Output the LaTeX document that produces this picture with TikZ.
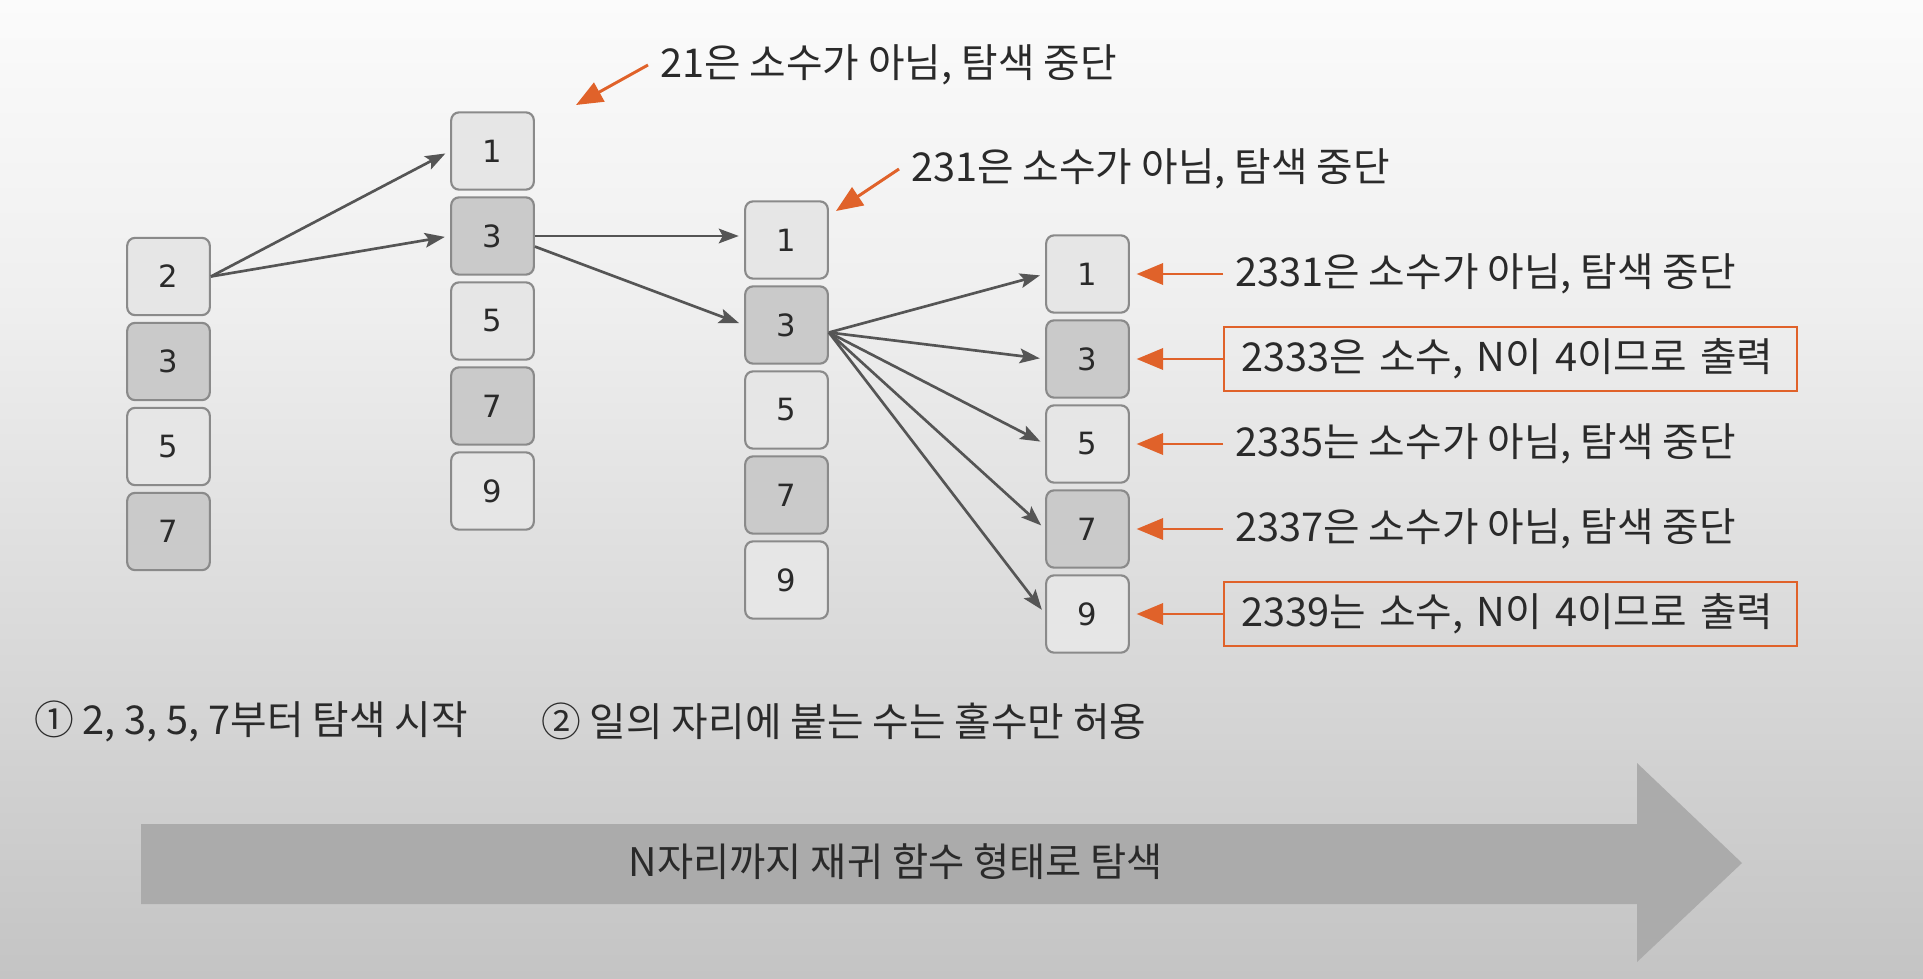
\documentclass[tikz,border=0pt]{standalone}
\usepackage{fontspec}
\setmainfont{Noto Sans CJK KR}
\newfontfamily\numfont{DejaVu Sans}
\usetikzlibrary{arrows.meta}

\definecolor{bgtop}{HTML}{FBFBFB}
\definecolor{bgmid}{HTML}{EFEFEF}
\definecolor{bgbot}{HTML}{C4C4C4}
\definecolor{boxlight}{HTML}{E6E6E6}
\definecolor{boxdark}{HTML}{CACACA}
\definecolor{boxline}{HTML}{8A8A8A}
\definecolor{textgray}{HTML}{2A2A2A}
\definecolor{arrowgray}{HTML}{555555}
\definecolor{orangeline}{HTML}{E0622A}
\definecolor{flowgray}{HTML}{ABABAB}

\tikzset{
  numbox/.style={draw=boxline,line width=1.6pt,rounded corners=6pt,
    minimum width=62pt,minimum height=58pt,inner sep=0pt,
    font=\numfont\fontsize{23}{23}\selectfont,text=textgray},
  note/.style={font=\fontsize{29.8}{29.8}\selectfont,text=textgray,
    inner xsep=9pt,anchor=west},
  notebox/.style={note,draw=orangeline,line width=1.5pt,inner xsep=13pt,
    text width=404pt,align=left,minimum height=48pt},
  grayarrow/.style={draw=arrowgray,line width=2pt,
    -{Stealth[length=15pt,width=11pt,inset=3pt]},shorten >=4pt},
  orangearrow/.style={draw=orangeline,line width=2.2pt,
    -{Triangle[length=20pt,width=16pt]},shorten >=5pt}
}

\begin{document}
\begin{tikzpicture}[x=0.75pt,y=-0.75pt]
\useasboundingbox (0,0) rectangle (1923,978);
% The background
\shade[top color=bgtop,bottom color=bgmid] (0,0) rectangle (1923,300);
\shade[top color=bgmid,bottom color=bgbot] (0,300) rectangle (1923,978);

% The first digits
\foreach \d/\f [count=\i from 0] in {2/boxlight,3/boxdark,5/boxlight,7/boxdark}
{
  \node[numbox,fill=\f] (a\d) at (168.5,276.5+85*\i) {\d};
}
% The odd digits appended
\foreach \col/\cx/\cy in {b/492.5/151,c/786.5/240,d/1087.5/274}
{
  \foreach \d/\f [count=\i from 0] in {1/boxlight,3/boxdark,5/boxlight,7/boxdark,9/boxlight}
  {
    \node[numbox,fill=\f] (\col\d) at (\cx,\cy+85*\i) {\d};
  }
}

% The search arrows
\draw[grayarrow] (a2.east) -- (b1.west);
\draw[grayarrow] (a2.east) -- (b3.west);
\draw[grayarrow] (b3.east) -- (b3.east -| c1.west);
\draw[grayarrow] (b3.-14) -- (c3.west);
\foreach \d in {1,3,5,7,9}
  \draw[grayarrow] (c3.-10) -- (d\d.west);

% The notes on the right
\node[note] (l1) at (1223,274) {2331은 소수가 아님, 탐색 중단};
\node[notebox] (l3) at (1223,359) {2333은 소수, N이 4이므로 출력};
\node[note] (l5) at (1223,444) {2335는 소수가 아님, 탐색 중단};
\node[note] (l7) at (1223,529) {2337은 소수가 아님, 탐색 중단};
\node[notebox] (l9) at (1223,614) {2339는 소수, N이 4이므로 출력};
\foreach \d in {1,3,5,7,9}
  \draw[orangearrow] (l\d.west) -- (d\d.east);

% The notes on top
\node[note] (t21) at (648,65) {21은 소수가 아님, 탐색 중단};
\coordinate (p21) at (576,105);
\draw[orangearrow,shorten >=0pt] (t21.west) -- (p21);
\node[note] (t231) at (899,169) {231은 소수가 아님, 탐색 중단};
\coordinate (p231) at (836,211);
\draw[orangearrow,shorten >=0pt] (t231.west) -- (p231);

% The rules
\node[note] (r1) at (22,721) {① 2, 3, 5, 7부터 탐색 시작};
\node[note] (r2) at (529,721) {② 일의 자리에 붙는 수는 홀수만 허용};

% The big arrow
\fill[flowgray] (141,824) -- (1637,824) -- (1637,763) -- (1742,863)
  -- (1637,962) -- (1637,904) -- (141,904) -- cycle;
\node[font=\fontsize{29.5}{29.5}\selectfont,text=textgray] (flow) at (896,862) {N자리까지 재귀 함수 형태로 탐색};
\end{tikzpicture}
\end{document}
